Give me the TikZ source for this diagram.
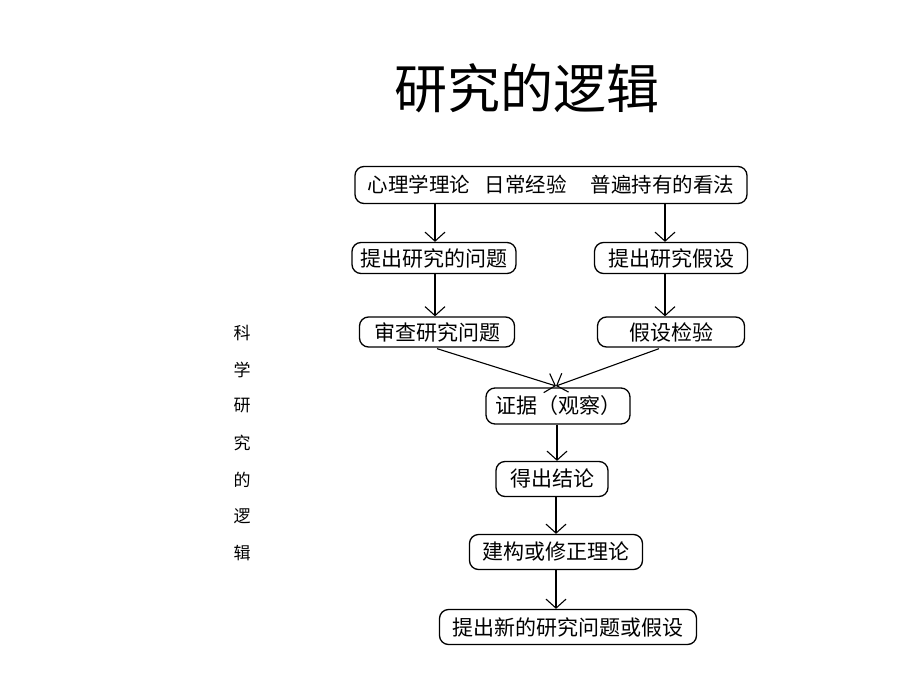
\documentclass[tikz,border=0pt]{standalone}
\usepackage{fontspec}
\setmainfont{Noto Sans CJK SC}
\newfontfamily\cjk{Noto Sans CJK SC}
\usetikzlibrary{arrows.meta}
\tikzset{
  flowbox/.style={draw=black, line width=1.3pt, rounded corners=9pt, inner sep=0pt,
    font=\cjk\fontsize{21}{23}\selectfont, anchor=center},
  flowarrow/.style={draw=black, line width=1.1pt, -{Straight Barb[length=9pt,width=20pt,line width=1.1pt]}},
  sidechar/.style={font=\cjk\fontsize{17}{19}\selectfont, inner sep=0pt}
}
\begin{document}
\begin{tikzpicture}[x=1pt,y=-1pt]
\useasboundingbox (0,0) rectangle (920,690);
\fill[white] (0,0) rectangle (920,690);

\node[font=\cjk\fontsize{53}{57}\selectfont, inner sep=0pt] (title) at (527,88) {研究的逻辑};

\node[flowbox, minimum width=392pt, minimum height=37pt] (src) at (551,185)
  {\fontsize{20.5}{22}\selectfont 心理学理论\hspace{15pt}日常经验\hspace{24pt}普遍持有的看法};
\node[flowbox, minimum width=164pt, minimum height=31pt] (q) at (434,258) {提出研究的问题};
\node[flowbox, minimum width=153pt, minimum height=31pt] (h) at (671,258) {提出研究假设};
\node[flowbox, minimum width=155pt, minimum height=30pt] (rq) at (437,332) {审查研究问题};
\node[flowbox, minimum width=147pt, minimum height=30pt] (ht) at (671,332) {假设检验};
\node[flowbox, minimum width=144pt, minimum height=36pt] (ev) at (558,406) {证据（观察）};
\node[flowbox, minimum width=112pt, minimum height=35pt] (con) at (552,479) {得出结论};
\node[flowbox, minimum width=173pt, minimum height=35pt] (th) at (556,552) {建构或修正理论};
\node[flowbox, minimum width=257pt, minimum height=35pt] (nq) at (568,627) {提出新的研究问题或假设};

\coordinate (evin) at (556,386);
\draw[flowarrow] (src.south -| 435,0) -- (q.north -| 435,0);
\draw[flowarrow] (src.south -| 665,0) -- (h.north -| 665,0);
\draw[flowarrow] (q.south -| 435,0) -- (rq.north -| 435,0);
\draw[flowarrow] (h.south -| 665,0) -- (ht.north -| 665,0);
\draw[flowarrow] (rq.south) ++(0,1) -- (evin);
\draw[flowarrow] (ht.south) ++(-12,1) -- (evin);
\draw[flowarrow] (ev.south -| 557,0) -- (con.north -| 557,0);
\draw[flowarrow] (con.south -| 556,0) -- (th.north -| 556,0);
\draw[flowarrow] (th.south -| 556,0) -- (nq.north -| 556,0);

\node[sidechar] (s1) at (242,333) {科};
\node[sidechar] (s2) at (242,370) {学};
\node[sidechar] (s3) at (242,406) {研};
\node[sidechar] (s4) at (242,443) {究};
\node[sidechar] (s5) at (242,480) {的};
\node[sidechar] (s6) at (242,516) {逻};
\node[sidechar] (s7) at (242,553) {辑};
\end{tikzpicture}
\end{document}
